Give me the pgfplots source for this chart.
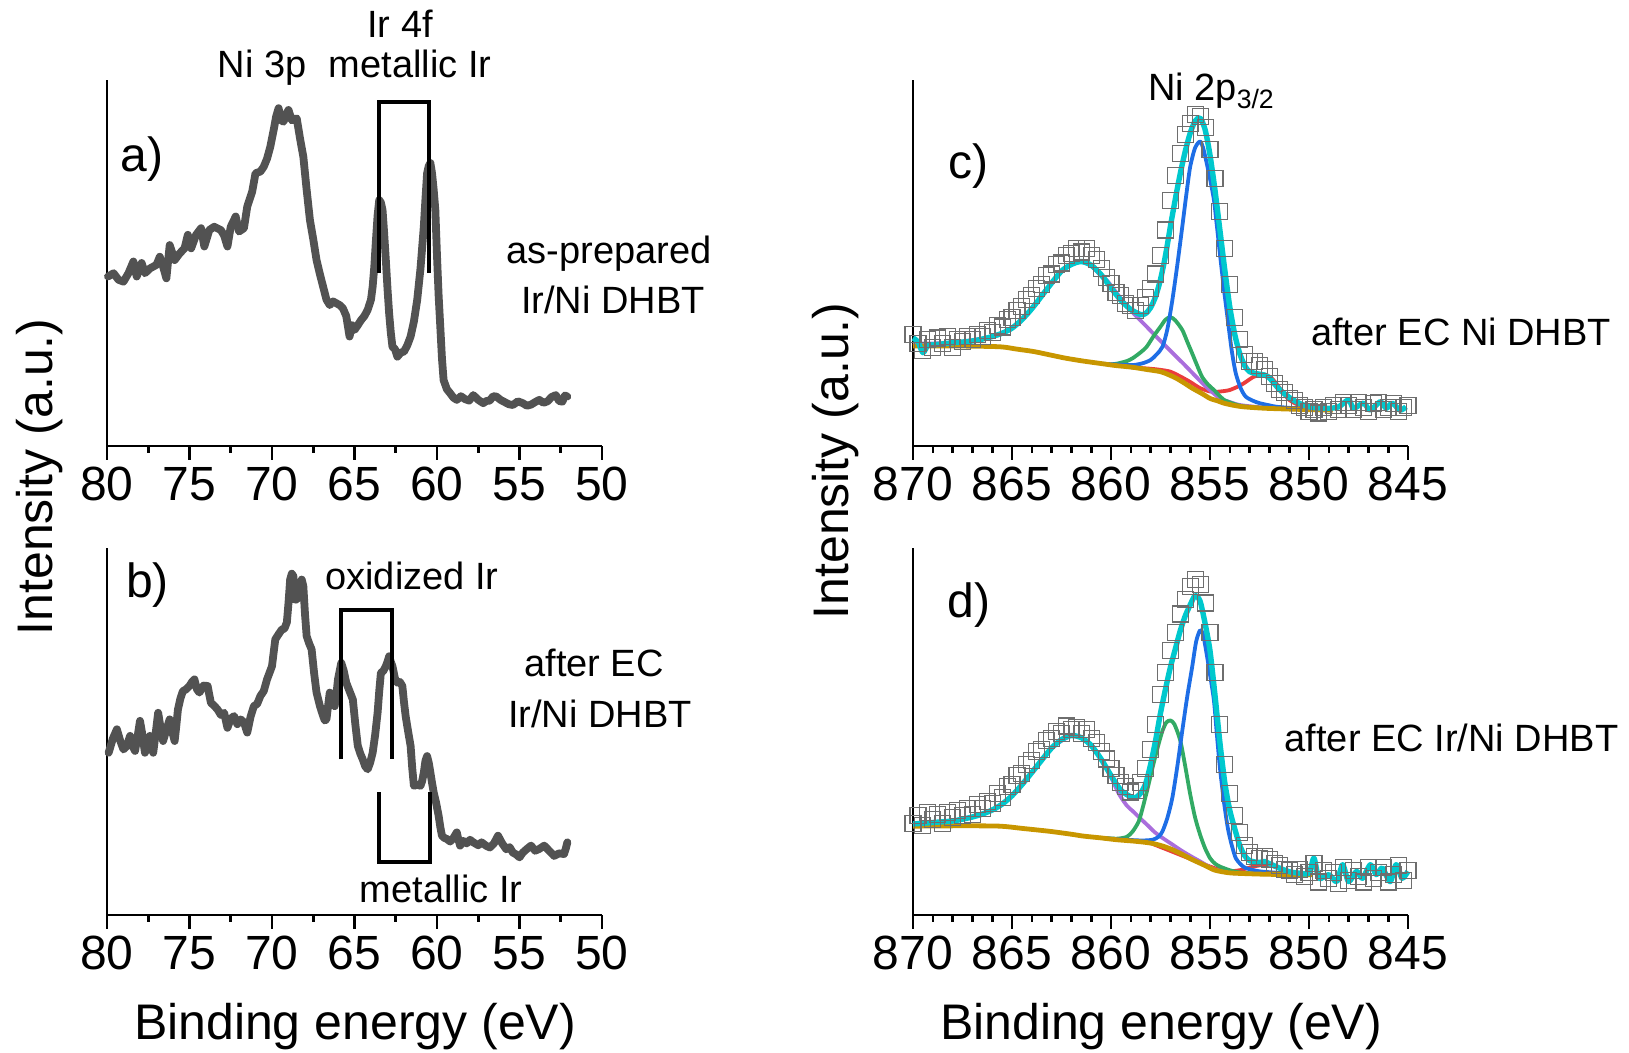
\documentclass[border=0pt]{standalone}
\usepackage{pgfplots}
\pgfplotsset{compat=1.18}
\usepackage{fontspec}
\setmainfont{Liberation Sans}
\definecolor{curvegray}{RGB}{82,82,82}
\definecolor{sqgray}{RGB}{110,110,110}
\definecolor{fcyan}{RGB}{0,200,205}
\definecolor{fblue}{RGB}{30,110,230}
\definecolor{fgreen}{RGB}{50,170,100}
\definecolor{fpurple}{RGB}{170,110,220}
\definecolor{fred}{RGB}{235,60,60}
\definecolor{fgold}{RGB}{200,150,0}
\newcommand{\fbig}{\fontsize{24}{28}\selectfont}
\newcommand{\flab}{\fontsize{25}{29}\selectfont}
\newcommand{\fann}{\fontsize{19}{23}\selectfont}
\pgfplotsset{
  xps/.style={scale only axis, width=247.5pt, anchor=south west,
    axis lines=left, axis line style={-, line width=1.3pt, black},
    ymin=0, ymax=100, ytick=\empty, x dir=reverse,
    tick align=outside, major tick length=7pt, minor tick length=3.5pt,
    every tick/.style={black, line width=1.3pt},
    tick label style={font=\fbig},
    /pgf/number format/assume math mode=true,
    clip=false},
  xpsl/.style={xps, xmin=50, xmax=80, xtick={50,55,...,80}, minor tick num=1},
  xpsr/.style={xps, xmin=845, xmax=870, xtick={845,850,...,870}, minor tick num=4},
  raw/.style={curvegray, line width=3.9pt, line join=round, line cap=round},
  brk/.style={black, line width=2pt},
  sq/.style={only marks, mark=square, mark size=4pt, mark options={sqgray, line width=0.55pt}},
  fit/.style={smooth, tension=0.45, line width=1.9pt, line join=round},
}
\begin{document}
\begin{tikzpicture}
\useasboundingbox (0,0) rectangle (814.5pt,526.5pt);

% ---------------- panel a
\begin{axis}[xpsl, at={(53.5pt,303.5pt)}, height=183pt]
\addplot[raw] coordinates {(79.94,46.3) (79.6,47.2) (79.3,45.4) (79.0,44.9) (78.7,47.2) (78.4,50.4) (78.2,46.3) (77.9,50) (77.7,47.2) (77.4,48.5) (77.0,49.5) (76.8,51.7) (76.6,49.0) (76.4,45.8) (76.2,54.9) (75.9,50.8) (75.6,52.6) (75.3,54) (75.1,57.7) (74.9,54) (74.6,57.7) (74.3,59.5) (74.1,54.5) (73.8,59) (73.5,59.9) (73.1,59) (72.9,57.5) (72.7,54.5) (72.5,59.9) (72.2,62.7) (72.0,58.6) (71.7,59.5) (71.5,65.4) (71.2,69.5) (71.0,74.5) (70.7,75.0) (70.5,76.3) (70.3,78.5) (70.1,81.8) (69.9,86.3) (69.75,90.0) (69.6,92.3) (69.45,89.0) (69.3,88.6) (69.15,90.5) (69.0,91.8) (68.8,89.0) (68.5,89.5) (68.3,84.0) (68.1,79) (67.9,70.0) (67.7,61.7) (67.5,56.5) (67.3,50.8) (67.1,47.0) (66.9,43.5) (66.7,40.0) (66.5,38.5) (66.3,39.5) (66.1,39) (65.9,38.5) (65.7,37.6) (65.5,35.5) (65.3,29.9) (65.15,33.0) (65.0,31.7) (64.8,33.0) (64.6,34.4) (64.4,35.5) (64.2,37.2) (64.0,40.0) (63.9,43.5) (63.8,49.0) (63.7,56.3) (63.6,63.0) (63.5,67.2) (63.4,66.5) (63.3,64.5) (63.2,58.0) (63.1,50.8) (63.0,43.0) (62.9,36.2) (62.8,31.0) (62.7,27.1) (62.55,26.5) (62.4,24.4) (62.2,25.5) (62.0,25.8) (61.8,27.5) (61.6,29.9) (61.4,34.0) (61.2,39.9) (61.0,48.5) (60.8,59.9) (60.7,67.5) (60.6,74.5) (60.5,76.5) (60.4,77.3) (60.3,74.5) (60.2,70.0) (60.1,64.5) (60.0,52.0) (59.9,41.0) (59.8,32.6) (59.7,24.0) (59.6,18) (59.4,15.5) (59.2,14.4) (59.0,13.2) (58.8,12.6) (58.55,13.6) (58.3,12.8) (58.05,12.4) (57.8,13.9) (57.5,12.6) (57.2,11.7) (57.0,12.3) (56.8,12.4) (56.6,13.6) (56.4,13.5) (56.15,12.6) (55.9,12.0) (55.65,11.4) (55.4,11.2) (55.1,12.2) (54.8,11.7) (54.55,11.0) (54.3,11.3) (54.05,12.0) (53.8,12.6) (53.55,11.8) (53.3,12.2) (53.05,13.4) (52.8,13.9) (52.6,12.3) (52.4,12.1) (52.25,13.8) (52.1,13.5)};
\addplot[brk] coordinates {(63.5,47.2) (63.5,94.1) (60.5,94.1) (60.5,47.2)};
\end{axis}

% ---------------- panel b
\begin{axis}[xpsl, at={(53.5pt,69pt)}, height=183.5pt]
\addplot[raw] coordinates {(79.9,44.2) (79.65,48.0) (79.4,50.6) (79.2,47.5) (79.0,45.1) (78.8,46.0) (78.6,48.8) (78.45,46.0) (78.3,44.7) (78.15,48.5) (78.0,52.9) (77.85,49.0) (77.7,44.2) (77.55,46.5) (77.4,48.8) (77.3,46.0) (77.2,44.2) (77.05,49.5) (76.9,55.1) (76.75,51.0) (76.6,47.4) (76.4,50.5) (76.2,53.3) (76.05,50.0) (75.9,47.4) (75.8,51.5) (75.7,56) (75.55,59.0) (75.4,61) (75.2,61.5) (75.0,62.4) (74.85,63.5) (74.7,64.2) (74.55,61.5) (74.4,60.6) (74.15,62.5) (73.9,62.4) (73.8,60.0) (73.7,57.8) (73.5,57.0) (73.3,56) (73.1,54.5) (72.9,55.1) (72.8,53.0) (72.7,51) (72.5,53.5) (72.3,54.2) (72.1,52.0) (71.9,53.3) (71.7,52.5) (71.5,49.7) (71.3,54.0) (71.1,56.9) (70.9,57.5) (70.7,59.7) (70.5,61.0) (70.3,64.2) (70.15,66.0) (70.0,67.8) (69.9,71.5) (69.8,75.1) (69.6,76.5) (69.4,77.8) (69.25,78.0) (69.1,79.7) (69.0,85.0) (68.9,91.4) (68.8,93.0) (68.7,92.3) (68.65,88.0) (68.6,85.9) (68.5,86.0) (68.4,86.8) (68.3,89.5) (68.2,91.4) (68.1,89.6) (68.0,82.0) (67.9,76) (67.75,74.0) (67.6,72.4) (67.45,66.0) (67.3,60.6) (67.1,57.0) (66.9,54.2) (66.8,53.0) (66.7,53.3) (66.6,57.0) (66.5,60.6) (66.35,58.0) (66.2,56.9) (66.1,60.0) (66.0,64.2) (65.9,66.5) (65.8,68.7) (65.65,66.5) (65.5,63.3) (65.3,61.0) (65.1,58.7) (64.95,52.0) (64.8,46.1) (64.65,44.0) (64.5,42.4) (64.35,40.5) (64.2,39.7) (64.05,41.5) (63.9,44.2) (63.75,49.0) (63.6,55.1) (63.5,61.0) (63.4,66) (63.25,66.5) (63.1,67.8) (63.0,69.0) (62.9,70.5) (62.8,69.0) (62.7,67.8) (62.55,64.5) (62.4,63.3) (62.25,63.5) (62.1,62.4) (62.0,58.0) (61.9,54.2) (61.75,50.0) (61.6,46.1) (61.5,40.0) (61.4,35.2) (61.2,35.5) (61.0,35.2) (60.9,36.5) (60.8,38.8) (60.7,42.0) (60.6,43.3) (60.5,41.5) (60.4,38.8) (60.3,36.0) (60.2,33.4) (60.05,30.5) (59.9,27) (59.8,24.0) (59.7,21.6) (59.55,21.0) (59.4,20.7) (59.2,20.0) (59.0,21.0) (58.8,22.5) (58.7,20.5) (58.6,18.9) (58.4,20.2) (58.2,19.5) (58.0,20.5) (57.8,19.8) (57.5,19.0) (57.3,19.8) (57.0,18.8) (56.8,18.4) (56.55,19.5) (56.3,21.6) (56.05,19.5) (55.8,17.9) (55.6,18.5) (55.4,17.0) (55.2,16.5) (55.0,15.7) (54.8,17.0) (54.55,18.0) (54.3,18.9) (54.05,17.5) (53.8,18.0) (53.5,18.9) (53.2,17.5) (52.9,16.1) (52.6,16.8) (52.3,16.6) (52.2,18.0) (52.1,19.8)};
\addplot[brk] coordinates {(65.8,42.4) (65.8,83.2) (62.7,83.2) (62.7,42.4)};
\addplot[brk] coordinates {(63.5,33.4) (63.5,14.5) (60.4,14.5) (60.4,33.4)};
\end{axis}

% ---------------- panel c
\begin{axis}[xpsr, at={(456.5pt,303.5pt)}, height=183pt]
\addplot[sq] coordinates {(870.00,30.5)(869.75,28)(869.50,26)(869.25,29)(869.00,27)(868.75,29.5)(868.50,28)(868.25,30)(868.00,27)(867.75,29)(867.50,28.5)(867.25,30)(867.00,29)(866.75,30.5)(866.50,30)(866.25,31.5)(866.00,31)(865.75,33)(865.50,32.5)(865.25,34.5)(865.00,35)(864.75,37)(864.50,38)(864.25,40)(864.00,41)(863.75,43)(863.50,44)(863.25,46.5)(863.00,47)(862.75,49.5)(862.50,50)(862.25,52)(862.00,52.5)(861.75,54)(861.50,53)(861.25,54)(861.00,52)(860.75,51)(860.50,48.5)(860.25,46)(860.00,44.5)(859.75,42)(859.50,41)(859.25,39)(859.00,38.5)(858.75,37)(858.50,38.5)(858.25,40.5)(858.00,43)(857.75,47)(857.50,52)(857.25,59)(857.00,67)(856.75,74)(856.50,80)(856.25,85)(856.00,88)(855.75,90.5)(855.50,90)(855.25,87)(855.00,81)(854.75,73)(854.50,64)(854.25,54)(854.00,44)(853.75,35)(853.50,29)(853.25,25)(853.00,23)(852.75,23)(852.50,22)(852.25,21)(852.00,19)(851.75,17)(851.50,15.5)(851.25,14.5)(851.00,13)(850.75,12.5)(850.50,11)(850.25,10.5)(850.00,9.5)(849.75,10)(849.50,9)(849.25,10.5)(849.00,9.5)(848.75,11)(848.50,10)(848.25,12)(848.00,11)(847.75,10)(847.50,12)(847.25,10.5)(847.00,9.5)(846.75,11.5)(846.50,12)(846.25,10)(846.00,10.5)(845.75,11.5)(845.50,9.5)(845.25,10.5)(845.00,11)};
\addplot[fit, fred] coordinates {(859,21.5)(858,21.1)(857.5,20.8)(857,20.3)(856.5,19)(856,17.5)(855.5,15.8)(855,14.9)(854.7,14.8)(854.3,15)(854.0,15.3)(853.6,16.2)(853.3,17.1)(852.8,18.9)(852.5,19.3)(852.2,19.4)(851.9,18.6)(851.6,16.7)(851.3,14.5)(851.0,12.6)(850.6,11.4)(850.1,10.7)(849.5,10.1)(848.8,9.8)};
\addplot[fit, fpurple] coordinates {(870,28.0)(868,28.2)(866,29.9)(865,32.2)(864,37.5)(863,44.5)(862.5,47.8)(862,49.6)(861.5,50.3)(861,49.2)(860.5,46.5)(860.2,45.2)(859.6,41)(859.1,37.6)(858.6,34.8)(858.2,32.6)(857.7,29.8)(857.2,27.1)(856.7,24.4)(856.2,21.7)(855.7,18.9)(855.2,16.2)(854.8,14.3)(854.5,13.0)(854.0,12.0)(853.5,11.2)(852.5,10.6)(851,10.1)(848.8,9.8)};
\addplot[fit, fgreen] coordinates {(860,22.3)(859.7,22.5)(859.2,23.2)(858.9,24.0)(858.5,25.6)(858.2,27.1)(857.85,30)(857.5,32.6)(857.25,34.5)(857.0,35.2)(856.75,34.3)(856.4,31.7)(856.15,28.5)(855.9,25.3)(855.65,22)(855.4,18.9)(855.1,16.8)(854.8,15.3)(854.5,13.6)(854.3,12.6)(853.8,11.5)(853.3,10.8)(852.5,10.4)};
\addplot[fit, fblue] coordinates {(860.5,22.5)(859.5,22.2)(858.9,22.1)(858.4,22.6)(858.0,23.5)(857.7,25)(857.4,27.1)(857.15,32)(856.9,39.9)(856.65,49.5)(856.4,59.9)(856.2,68.5)(856.0,76.3)(855.75,81.5)(855.5,83.2)(855.35,81.5)(855.2,78.1)(855.0,73)(854.8,67.2)(854.65,60)(854.5,52.6)(854.3,43)(854.1,34.4)(853.9,26)(853.7,19.9)(853.45,15.8)(853.2,13.5)(852.85,12.4)(852.5,11.7)(852,11.1)(851.6,10.7)(850.5,10.2)};
\addplot[fit, fgold, line width=2.4pt] coordinates {(870,27.3)(867.5,27.3)(865.6,27.1)(864.8,26.5)(863.9,25.8)(863.1,24.9)(862.3,24)(861.4,23.2)(860.6,22.6)(859.8,22.0)(858.9,21.5)(858.2,20.9)(857.5,20.3)(857.1,19.5)(856.7,18.5)(856.3,17.2)(855.9,15.8)(855.4,14.3)(855.0,13)(854.6,12.3)(854.3,11.7)(853.8,11.1)(853.3,10.7)(852.2,10.3)(850.5,10)(848.8,9.8)};
\addplot[fit, fcyan, line width=2.7pt] coordinates {(870,29.5)(869.75,28.5)(869.5,25.5)(869.25,27.5)(869,27.6)(868.5,27.9)(868,28.2)(867.5,28.4)(867,28.7)(866.5,29.2)(866,29.9)(865.5,30.8)(865,32.2)(864.5,34.5)(864,37.5)(863.5,41)(863,44.5)(862.5,47.8)(862,49.6)(861.5,50.4)(861,49.4)(860.5,46.8)(860,43.2)(859.5,39.8)(859,37.3)(858.5,35.9)(858.25,36.2)(858,37.8)(857.75,40.8)(857.5,45.5)(857.25,52)(857,60)(856.75,67.5)(856.5,74.5)(856.25,80.5)(856,85.5)(855.75,88.8)(855.5,89.6)(855.25,86.5)(855,79.5)(854.75,70)(854.5,59)(854.25,48)(854,38)(853.75,30.5)(853.5,25.3)(853.25,22)(853,20.3)(852.5,19.6)(852.25,19.4)(852,18.6)(851.5,15.5)(851,13.3)(850.5,11.7)(850,10.7)(849.5,10.4)(849,10.3)(848.5,10.7)(848,12.6)(847.75,10.3)(847.25,11.7)(846.9,9.8)(846.4,12.1)(846.1,10.3)(845.8,11.7)(845.4,9.8)(845.1,10.7)};
\end{axis}

% ---------------- panel d
\begin{axis}[xpsr, at={(456.5pt,69pt)}, height=183.5pt]
\addplot[sq] coordinates {(870.00,25)(869.75,27)(869.50,24.5)(869.25,28)(869.00,26)(868.75,27.5)(868.50,25)(868.25,28)(868.00,26.5)(867.75,28.5)(867.50,27)(867.25,29)(867.00,27.5)(866.75,30)(866.50,29)(866.25,31)(866.00,30.5)(865.75,33)(865.50,32)(865.25,35)(865.00,35.5)(864.75,38)(864.50,38.5)(864.25,41)(864.00,42)(863.75,44.5)(863.50,45)(863.25,47.5)(863.00,48)(862.75,50)(862.50,49.5)(862.25,51.5)(862.00,50.5)(861.75,51)(861.50,49.5)(861.25,50.5)(861.00,48)(860.75,47)(860.50,44.5)(860.25,42.5)(860.00,40)(859.75,38)(859.50,36)(859.25,35)(859.00,33.5)(858.75,34)(858.50,36)(858.25,40)(858.00,45)(857.75,52)(857.50,60)(857.25,66)(857.00,72)(856.75,77)(856.50,82)(856.25,86)(856.00,89.5)(855.75,91.5)(855.50,90)(855.25,85)(855.00,77)(854.75,66)(854.50,52)(854.25,41)(854.00,33)(853.75,27)(853.50,22.5)(853.25,19)(853.00,17)(852.75,16)(852.50,15.5)(852.25,16)(852.00,15)(851.75,14)(851.50,13.5)(851.25,12.5)(851.00,12)(850.75,11)(850.50,12.5)(850.25,10.5)(850.00,11.5)(849.75,14)(849.50,9)(849.25,12)(849.00,10)(848.75,11.5)(848.50,8.5)(848.25,13)(848.00,9.5)(847.75,12)(847.50,10.5)(847.25,9)(847.00,13)(846.75,10)(846.50,11.5)(846.25,13)(846.00,9)(845.75,11)(845.50,13.5)(845.25,9.5)(845.00,12)};
\addplot[fit, fred] coordinates {(858,19.6)(856,15.3)(855,13.2)(854.2,11.9)(853.5,12.2)(852.8,13.2)(852.2,13.7)(851.7,13.1)(851.2,12.0)(850.5,11.2)(849.8,11)};
\addplot[fit, fpurple] coordinates {(870,24.8)(868,25.6)(866,28.6)(865,32.5)(864,38.8)(863,45.5)(862,48.9)(861.5,48.3)(861,46.2)(860.5,42.5)(860,37.5)(859.6,33)(859.2,29.8)(858.9,28.3)(858.5,26.2)(858.2,24.7)(857.8,22.6)(857.4,21.0)(856.9,19.2)(856.4,17.4)(855.9,15.8)(855.5,14.6)(855,13)(854.7,12.3)(854.2,11.8)(853.8,11.4)(852,11.1)(850.5,11)(849.8,11)};
\addplot[fit, fgreen] coordinates {(860.5,21.0)(859.7,20.8)(859.2,21.3)(858.9,22.8)(858.6,25.5)(858.4,29.2)(858.15,34.5)(857.9,40.2)(857.65,45.5)(857.4,50.2)(857.2,52.5)(857.0,53)(856.8,52)(856.5,47.5)(856.25,40.5)(856.0,32.9)(855.75,26.5)(855.5,21.9)(855.25,18.2)(855.0,15.5)(854.75,14)(854.5,13.2)(854,12.2)(853.5,11.6)(852.5,11.2)};
\addplot[fit, fblue] coordinates {(860.5,21)(859.5,20.6)(858.9,20.4)(858.4,20.3)(857.9,20.5)(857.6,21.3)(857.4,22.8)(857.15,26.5)(856.9,32)(856.65,40.5)(856.4,50.2)(856.15,59.5)(855.9,67.6)(855.7,74.5)(855.5,77.6)(855.35,76.5)(855.2,72.1)(855.0,65.5)(854.8,58.4)(854.65,49)(854.5,40.2)(854.3,31)(854.1,23.7)(853.9,19)(853.7,15.5)(853.45,13.8)(853.2,12.8)(852.5,11.9)(851.3,11.4)(850,11)};
\addplot[fit, fgold, line width=2.4pt] coordinates {(870,24.2)(867.5,24.3)(865.6,24.2)(864.5,23.6)(863.1,22.8)(862,22)(861.4,21.5)(860.5,21)(859.7,20.5)(858.8,20.1)(858.0,19.6)(857.4,18.8)(856.9,17.8)(856.4,16.5)(855.9,15.1)(855.3,13.6)(854.8,12.3)(854.3,11.7)(853.8,11.4)(852.2,11.1)(850.5,11)(849.8,11)};
\addplot[fit, fcyan, line width=2.7pt] coordinates {(870,24.8)(869.5,25.0)(869,25.2)(868.5,25.4)(868,25.6)(867.5,26.1)(867,26.7)(866.5,27.5)(866,28.6)(865.5,30.2)(865,32.5)(864.5,35.5)(864,38.8)(863.5,42.2)(863,45.5)(862.5,47.8)(862,48.9)(861.5,48.3)(861,46.2)(860.5,42.5)(860,38.0)(859.5,34.0)(859,32.2)(858.75,32.0)(858.5,33.2)(858.25,35.8)(858,41.0)(857.75,47.5)(857.5,55.0)(857.25,61.5)(857,67.5)(856.75,72.5)(856.5,77.5)(856.25,81.5)(856,84.5)(855.75,87.0)(855.5,85.5)(855.25,79.5)(855,72.0)(854.75,60.0)(854.5,47.0)(854.25,36.0)(854,28.5)(853.75,23.5)(853.5,19.0)(853.25,16.2)(853,14.8)(852.5,14.3)(852.25,14.6)(852,14.0)(851.5,12.8)(851,11.8)(850.5,11.4)(850,11.4)(849.75,15.5)(849.5,10.0)(849,11.0)(848.6,9.1)(848.3,13.7)(848,9.1)(847.6,11.9)(847.3,10.0)(846.9,13.7)(846.6,11.0)(846.3,12.8)(845.9,9.1)(845.6,13.7)(845.3,10.0)(845,11.9)};
\end{axis}

% ---------------- texts
\node[anchor=base, font=\fann] at (131pt,487.5pt) {Ni 3p};
\node[anchor=base, font=\fann] at (200pt,507.5pt) {Ir 4f};
\node[anchor=base, font=\fann] at (205pt,487.5pt) {metallic Ir};
\node[font=\fbig] at (71pt,447pt) {a)};
\node[anchor=base, font=\fann] at (304.5pt,394.5pt) {as-prepared};
\node[anchor=base, font=\fann] at (306.5pt,369.5pt) {Ir/Ni DHBT};
\node[font=\fbig] at (73.75pt,234pt) {b)};
\node[anchor=base, font=\fann] at (206pt,231.5pt) {oxidized Ir};
\node[anchor=base, font=\fann] at (297pt,188pt) {after EC};
\node[anchor=base, font=\fann] at (300pt,162.5pt) {Ir/Ni DHBT};
\node[anchor=base, font=\fann] at (220.5pt,75pt) {metallic Ir};
\node[anchor=base, font=\flab] at (177.5pt,6.5pt) {Binding energy (eV)};
\node[anchor=base, font=\flab] at (580.5pt,6.5pt) {Binding energy (eV)};
\node[anchor=base, rotate=90, font=\flab] at (26.5pt,288pt) {Intensity (a.u.)};
\node[anchor=base, rotate=90, font=\flab] at (424pt,296pt) {Intensity (a.u.)};
\node[anchor=base west, font=\fann] at (570.5pt,476pt) {Ni 2p\textsubscript{3/2}};
\node[font=\fbig] at (484pt,443.5pt) {c)};
\node[anchor=base, font=\fann] at (730.5pt,353.5pt) {after EC Ni DHBT};
\node[font=\fbig] at (484.5pt,224pt) {d)};
\node[anchor=base, font=\fann] at (725.75pt,150.5pt) {after EC Ir/Ni DHBT};
\end{tikzpicture}
\end{document}
